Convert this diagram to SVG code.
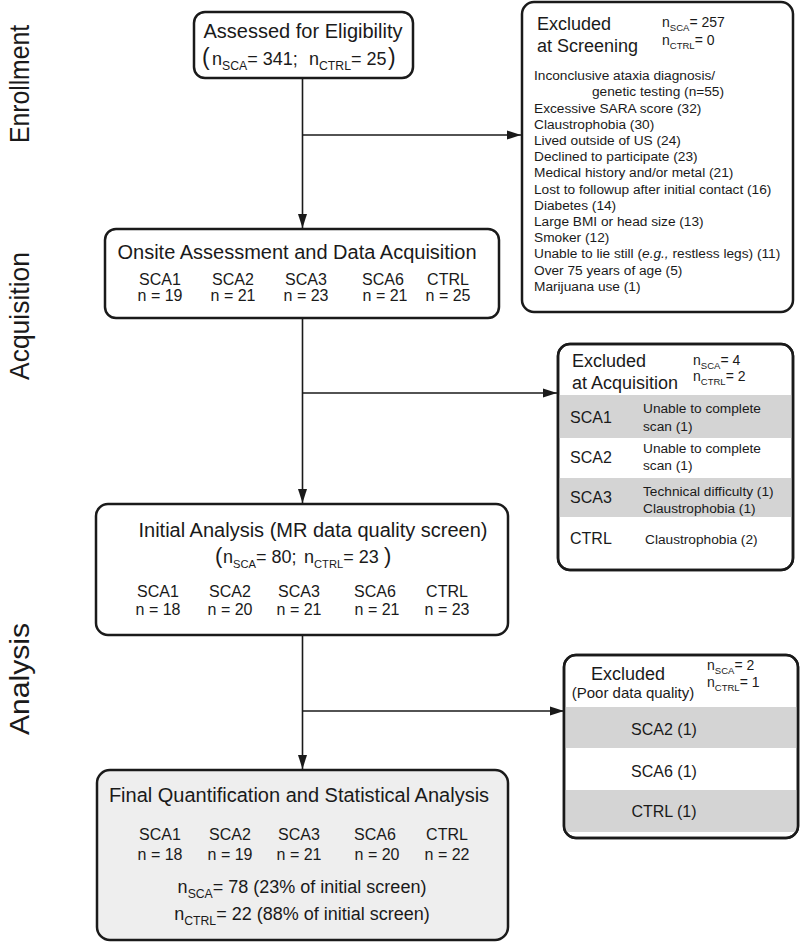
<svg xmlns="http://www.w3.org/2000/svg" width="800" height="943" viewBox="0 0 800 943">
<style>
text{font-family:"Liberation Sans",Arial,sans-serif;fill:#1a1a1a}
.box{fill:#fff;stroke:#1a1a1a;stroke-width:2.5}
.band{fill:#d4d4d4}
.t20{font-size:20px}
.t18{font-size:18px}
.t16{font-size:16px}
.t15{font-size:15px}
.t14{font-size:13.7px}
.n14{font-size:14px}
.sub{font-size:0.68em}
.sub2{font-size:0.62em}
.side{font-size:28px}
.mid{text-anchor:middle}
.conn line{stroke:#1a1a1a;stroke-width:1.6}
</style>
<defs>
<marker id="arr" markerUnits="userSpaceOnUse" markerWidth="16" markerHeight="10" refX="14" refY="5" orient="auto">
<path d="M0,0.5 L14,5 L0,9.5 z" fill="#1a1a1a"/>
</marker>
</defs>
<rect width="800" height="943" fill="#fff"/>

<g id="side-labels">
<text class="side" transform="translate(29,143) rotate(-90)" textLength="118" lengthAdjust="spacingAndGlyphs">Enrollment</text>
<text class="side" transform="translate(29,380) rotate(-90)" textLength="128" lengthAdjust="spacingAndGlyphs">Acquisition</text>
<text class="side" transform="translate(29,735) rotate(-90)" textLength="112" lengthAdjust="spacingAndGlyphs">Analysis</text>
</g>

<g class="conn" id="connectors">
<line x1="302.5" y1="78" x2="302.5" y2="228" marker-end="url(#arr)"/>
<line x1="302.5" y1="135" x2="521" y2="135" marker-end="url(#arr)"/>
<line x1="302.5" y1="318" x2="302.5" y2="503" marker-end="url(#arr)"/>
<line x1="302.5" y1="393" x2="557" y2="393" marker-end="url(#arr)"/>
<line x1="302.5" y1="635" x2="302.5" y2="769" marker-end="url(#arr)"/>
<line x1="302.5" y1="711" x2="564" y2="711" marker-end="url(#arr)"/>
</g>

<g id="assessed">
<rect class="box" x="194" y="12" width="219" height="66" rx="11"/>
<text class="t20 mid" x="303" y="38">Assessed for Eligibility</text>
<text font-size="18" y="65"><tspan x="202" font-size="23">(</tspan><tspan x="212">n</tspan><tspan class="sub" dy="5">SCA</tspan><tspan dy="-5">= 341;</tspan><tspan x="309">n</tspan><tspan class="sub" dy="5">CTRL</tspan><tspan dy="-5">= 25</tspan><tspan x="388" font-size="23">)</tspan></text>
</g>

<g id="excluded-screening">
<rect class="box" x="522" y="2" width="271" height="310" rx="12"/>
<text class="t18" x="537" y="30">Excluded</text>
<text class="t18" x="537" y="52">at Screening</text>
<text class="n14" x="662" y="27">n<tspan class="sub" dy="4">SCA</tspan><tspan dy="-4">= 257</tspan></text>
<text class="n14" x="662" y="45">n<tspan class="sub" dy="4">CTRL</tspan><tspan dy="-4">= 0</tspan></text>
<text class="t14" x="534" y="80">Inconclusive ataxia diagnosis/</text>
<text class="t14" x="592" y="96">genetic testing (n=55)</text>
<text class="t14" x="534" y="113">Excessive SARA score (32)</text>
<text class="t14" x="534" y="129">Claustrophobia (30)</text>
<text class="t14" x="534" y="145">Lived outside of US (24)</text>
<text class="t14" x="534" y="161">Declined to participate (23)</text>
<text class="t14" x="534" y="177">Medical history and/or metal (21)</text>
<text class="t14" x="534" y="194">Lost to followup after initial contact (16)</text>
<text class="t14" x="534" y="210">Diabetes (14)</text>
<text class="t14" x="534" y="226">Large BMI or head size (13)</text>
<text class="t14" x="534" y="242">Smoker (12)</text>
<text class="t14" x="534" y="258">Unable to lie still (<tspan font-style="italic">e.g.,</tspan> restless legs) (11)</text>
<text class="t14" x="534" y="275">Over 75 years of age (5)</text>
<text class="t14" x="534" y="291">Marijuana use (1)</text>
</g>

<g id="onsite">
<rect class="box" x="105" y="229" width="394" height="89" rx="11"/>
<text class="t20 mid" x="297" y="259">Onsite Assessment and Data Acquisition</text>
<g class="t16 mid">
<text x="160" y="285">SCA1</text><text x="160" y="301">n = 19</text>
<text x="233" y="285">SCA2</text><text x="233" y="301">n = 21</text>
<text x="306" y="285">SCA3</text><text x="306" y="301">n = 23</text>
<text x="383" y="285">SCA6</text><text x="385" y="301">n = 21</text>
<text x="448" y="285">CTRL</text><text x="448" y="301">n = 25</text>
</g>
</g>

<g id="excluded-acquisition">
<rect class="box" x="558" y="344" width="235" height="226" rx="12"/>
<rect class="band" x="559.5" y="395" width="232" height="43"/>
<rect class="band" x="559.5" y="478" width="232" height="39"/>
<rect x="558" y="344" width="235" height="226" rx="12" fill="none" stroke="#1a1a1a" stroke-width="2.5"/>
<text class="t18" x="572" y="367">Excluded</text>
<text class="t18" x="572" y="389">at Acquisition</text>
<text class="n14" x="693" y="365">n<tspan class="sub" dy="4">SCA</tspan><tspan dy="-4">=  4</tspan></text>
<text class="n14" x="693" y="381">n<tspan class="sub" dy="4">CTRL</tspan><tspan dy="-4">= 2</tspan></text>
<text class="t16" x="570" y="423">SCA1</text>
<text class="t14" x="643" y="413">Unable to complete</text>
<text class="t14" x="643" y="431">scan (1)</text>
<text class="t16" x="570" y="463">SCA2</text>
<text class="t14" x="643" y="453">Unable to complete</text>
<text class="t14" x="643" y="470">scan (1)</text>
<text class="t16" x="570" y="503">SCA3</text>
<text class="t14" x="643" y="496">Technical difficulty (1)</text>
<text class="t14" x="643" y="513">Claustrophobia (1)</text>
<text class="t16" x="570" y="544">CTRL</text>
<text class="t14" x="645" y="544">Claustrophobia (2)</text>
</g>

<g id="initial-analysis">
<rect class="box" x="96" y="504" width="412" height="131" rx="12"/>
<text class="t20 mid" x="313" y="537">Initial Analysis (MR data quality screen)</text>
<text font-size="18" y="563"><tspan x="215" font-size="22">(</tspan><tspan x="223">n</tspan><tspan class="sub2" dy="5">SCA</tspan><tspan dy="-5">= 80;</tspan><tspan x="304">n</tspan><tspan class="sub2" dy="5">CTRL</tspan><tspan dy="-5">= 23</tspan><tspan x="384" font-size="22">)</tspan></text>
<g class="t16 mid">
<text x="158" y="597">SCA1</text><text x="158" y="615">n = 18</text>
<text x="230" y="597">SCA2</text><text x="230" y="615">n = 20</text>
<text x="299" y="597">SCA3</text><text x="299" y="615">n = 21</text>
<text x="375" y="597">SCA6</text><text x="377" y="615">n = 21</text>
<text x="447" y="597">CTRL</text><text x="447" y="615">n = 23</text>
</g>
</g>

<g id="excluded-quality">
<rect class="box" x="564" y="655" width="234" height="183" rx="12"/>
<rect class="band" x="565.5" y="707" width="231" height="41"/>
<rect class="band" x="565.5" y="790" width="231" height="42"/>
<rect x="564" y="655" width="234" height="183" rx="12" fill="none" stroke="#1a1a1a" stroke-width="2.5"/>
<text class="t18 mid" x="628" y="680">Excluded</text>
<text class="t15 mid" x="633" y="698">(Poor data quality)</text>
<text class="n14" x="707" y="670">n<tspan class="sub" dy="4">SCA</tspan><tspan dy="-4">=  2</tspan></text>
<text class="n14" x="707" y="687">n<tspan class="sub" dy="4">CTRL</tspan><tspan dy="-4">= 1</tspan></text>
<text class="t16 mid" x="664" y="735">SCA2 (1)</text>
<text class="t16 mid" x="664" y="777">SCA6 (1)</text>
<text class="t16 mid" x="664" y="817">CTRL (1)</text>
</g>

<g id="final">
<rect class="box" x="97" y="770" width="411" height="170" rx="13" style="fill:#eeeeee"/>
<text class="t20 mid" x="299" y="802" font-size="20.5">Final Quantification and Statistical Analysis</text>
<g class="t16 mid">
<text x="160" y="840">SCA1</text><text x="160" y="860">n = 18</text>
<text x="230" y="840">SCA2</text><text x="230" y="860">n = 19</text>
<text x="299" y="840">SCA3</text><text x="299" y="860">n = 21</text>
<text x="375" y="840">SCA6</text><text x="377" y="860">n = 20</text>
<text x="447" y="840">CTRL</text><text x="447" y="860">n = 22</text>
</g>
<text class="t18 mid" x="302" y="893">n<tspan class="sub" dy="5">SCA</tspan><tspan dy="-5">= 78 (23% of initial screen)</tspan></text>
<text class="t18 mid" x="302" y="920">n<tspan class="sub" dy="5">CTRL</tspan><tspan dy="-5">= 22 (88% of initial screen)</tspan></text>
</g>
</svg>
